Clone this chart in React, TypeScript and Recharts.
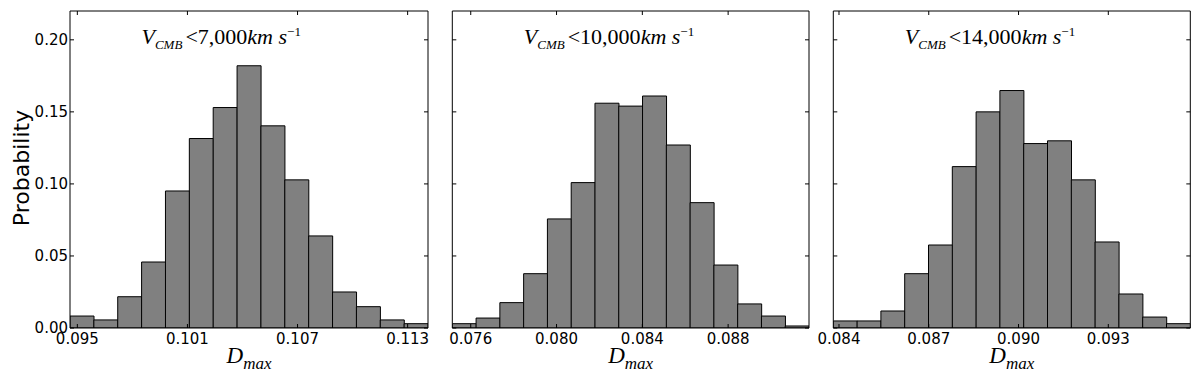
import React from "react";
import { ComposedChart, Bar, Line, XAxis, YAxis } from "recharts";

// bin probabilities (15 bins each)
const probLow = [0.0083, 0.0056, 0.0217, 0.0458, 0.0951, 0.1315, 0.153, 0.182, 0.1403, 0.1028, 0.0639, 0.025, 0.0148, 0.0056, 0.003];
const probMid = [0.003, 0.0069, 0.0176, 0.0377, 0.0757, 0.1009, 0.156, 0.154, 0.161, 0.127, 0.087, 0.0437, 0.0167, 0.0083, 0.0014];
const probHigh = [0.0049, 0.0049, 0.0118, 0.0377, 0.0576, 0.112, 0.15, 0.1648, 0.128, 0.1299, 0.1028, 0.0597, 0.0236, 0.0076, 0.003];

// D_max range covered by the bins, and the tick labels
const rangeLow = [0.0946, 0.11411];
const rangeMid = [0.07514, 0.09177];
const rangeHigh = [0.08381, 0.09574];
const ticksLow = [0.095, 0.101, 0.107, 0.113];
const ticksMid = [0.076, 0.08, 0.084, 0.088];
const ticksHigh = [0.084, 0.087, 0.09, 0.093];
const probTicks = [0, 0.05, 0.1, 0.15, 0.2];
const speedLimits = ["7,000", "10,000", "14,000"];

const tickFont = { fontFamily: "DejaVu Sans", fontSize: 15, fill: "#000" };
const blank = () => "";

interface PanelProps {
  probs: number[];
  range: number[];
  ticks: number[];
  left: number;
  width: number;
  marginLeft: number;
  marginRight: number;
  showY: boolean;
}

function Panel({ probs, range, ticks, left, width, marginLeft, marginRight, showY }: PanelProps) {
  // bins are equal width over the range, bars sit on the bin centres
  const step = (range[1] - range[0]) / probs.length;
  const data = probs.map((p, i) => ({ x: range[0] + (i + 0.5) * step, p }));
  return (
    <div style={{ position: "absolute", left, top: 0 }}>
      <ComposedChart
        width={width}
        height={384}
        data={data}
        barCategoryGap={0}
        margin={{ top: 10, right: marginRight, bottom: 26, left: marginLeft }}
      >
        <XAxis
          xAxisId="x"
          dataKey="x"
          type="number"
          domain={range}
          allowDataOverflow
          ticks={ticks}
          interval={0}
          height={30}
          tickSize={-4}
          tickMargin={9}
          tickFormatter={(v: number) => v.toFixed(3)}
          tick={tickFont}
          stroke="#000"
        />
        <XAxis
          xAxisId="top"
          dataKey="x"
          orientation="top"
          type="number"
          domain={range}
          allowDataOverflow
          ticks={ticks}
          interval={0}
          height={1}
          tickSize={-4}
          tickFormatter={blank}
          stroke="#000"
        />
        <YAxis
          yAxisId="l"
          domain={[0, 0.22]}
          allowDataOverflow
          ticks={probTicks}
          interval={0}
          width={showY ? 40 : 1}
          tickSize={-4}
          tickMargin={6}
          tickFormatter={showY ? (v: number) => v.toFixed(2) : blank}
          tick={tickFont}
          stroke="#000"
        />
        <YAxis
          yAxisId="r"
          orientation="right"
          domain={[0, 0.22]}
          allowDataOverflow
          ticks={probTicks}
          interval={0}
          width={1}
          tickSize={-4}
          tickFormatter={blank}
          stroke="#000"
        />
        <Bar
          xAxisId="x"
          yAxisId="l"
          dataKey="p"
          fill="#808080"
          stroke="#000"
          strokeWidth={1}
          isAnimationActive={false}
        />
        <Line
          xAxisId="top"
          yAxisId="r"
          dataKey="p"
          stroke="none"
          dot={false}
          activeDot={false}
          isAnimationActive={false}
        />
      </ComposedChart>
    </div>
  );
}

const plotLefts = [70, 452.3, 833.3];
const plotCenters = [249, 630.7, 1011.8];

export default function App() {
  return (
    <div style={{ position: "absolute", left: 0, top: 0, width: 1200, height: 384, background: "#fff" }}>
      <Panel probs={probLow} range={rangeLow} ticks={ticksLow} left={0} width={440} marginLeft={30} marginRight={11} showY />
      <Panel probs={probMid} range={rangeMid} ticks={ticksMid} left={430} width={390} marginLeft={21.3} marginRight={10} showY={false} />
      <Panel probs={probHigh} range={rangeHigh} ticks={ticksHigh} left={805} width={395} marginLeft={27.3} marginRight={8.7} showY={false} />
      <svg width={1200} height={384} style={{ position: "absolute", left: 0, top: 0, pointerEvents: "none" }}>
        <text
          transform="translate(29,168) rotate(-90)"
          textAnchor="middle"
          fontFamily="DejaVu Sans"
          fontSize={22}
          fill="#000"
        >
          Probability
        </text>
        {plotLefts.map((x, i) => (
          <text key={"v" + i} x={x + 71.5} y={44} fontFamily="Liberation Serif" fontSize={22} fill="#000">
            <tspan fontStyle="italic">V</tspan>
            <tspan fontStyle="italic" fontSize={13} dy={5}>CMB</tspan>
            <tspan dy={-5} dx={3}>{"<" + speedLimits[i]}</tspan>
            <tspan fontStyle="italic">km s</tspan>
            <tspan fontSize={13} dy={-8}>−1</tspan>
          </text>
        ))}
        {plotCenters.map((x, i) => (
          <text key={"d" + i} x={x} y={363} textAnchor="middle" fontFamily="Liberation Serif" fontSize={23} fill="#000">
            <tspan fontStyle="italic">D</tspan>
            <tspan fontStyle="italic" fontSize={17} dy={6}>max</tspan>
          </text>
        ))}
      </svg>
    </div>
  );
}
